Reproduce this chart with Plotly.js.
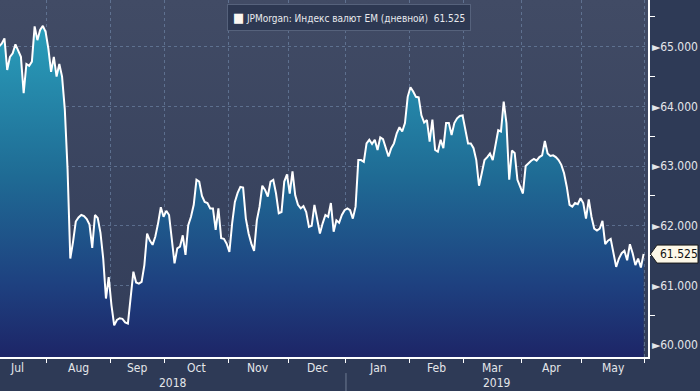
<!DOCTYPE html>
<html>
<head>
<meta charset="utf-8">
<script src="https://cdn.plot.ly/plotly-3.0.1.min.js"></script>
<style>
  html, body { margin: 0; padding: 0; background: #2e3a56; }
  #chart { width: 700px; height: 391px; }
</style>
</head>
<body>
<div id="chart"></div>
<script>
// ---- Data (trading-day index from 2 Jul 2018) ----
const seriesName = 'JPMorgan: Индекс валют EM (дневной)';
const firstDay = 4;
const values = [
  65.00, 65.05, 65.14, 64.61, 64.83, 64.89, 65.04, 64.92, 64.83, 64.22,
  64.71, 64.68, 64.75, 65.34, 65.11, 65.28, 65.35, 65.25, 64.97, 64.58,
  64.83, 64.50, 64.71, 64.50, 63.95, 62.95, 61.45, 61.73, 62.07, 62.14,
  62.18, 62.16, 62.11, 62.02, 61.63, 62.18, 62.13, 61.88, 61.45, 60.78,
  61.14, 60.67, 60.33, 60.42, 60.45, 60.44, 60.38, 60.36, 60.80, 61.23,
  61.05, 61.03, 61.06, 61.34, 61.87, 61.75, 61.68, 61.82, 62.04, 62.31,
  62.15, 62.25, 62.18, 61.75, 61.37, 61.62, 61.65, 61.84, 61.51, 62.01,
  62.15, 62.35, 62.77, 62.74, 62.50, 62.40, 62.38, 62.29, 62.29, 61.93,
  62.29, 61.79, 61.78, 61.70, 61.56, 62.04, 62.40, 62.55, 62.65, 62.64,
  62.12, 61.87, 61.70, 61.58, 62.09, 62.32, 62.67, 62.60, 62.49, 62.74,
  62.77, 62.54, 62.21, 62.23, 62.74, 62.86, 62.54, 62.91, 62.51, 62.35,
  62.29, 62.33, 62.23, 61.98, 62.00, 62.35, 62.12, 61.87, 62.04, 62.18,
  62.15, 62.38, 61.90, 62.09, 62.05, 62.18, 62.26, 62.29, 62.26, 62.12,
  62.32, 63.10, 63.10, 63.07, 63.38, 63.44, 63.37, 63.44, 63.27, 63.48,
  63.45, 63.30, 63.16, 63.30, 63.38, 63.55, 63.65, 63.58, 63.72, 64.16,
  64.32, 64.25, 64.16, 64.15, 63.85, 63.73, 63.77, 63.41, 63.78, 63.27,
  63.24, 63.44, 63.30, 63.72, 63.72, 63.52, 63.72, 63.80, 63.84, 63.85,
  63.60, 63.38, 63.38, 63.30, 63.10, 62.67, 62.88, 63.10, 63.15, 63.21,
  63.10, 63.35, 63.60, 63.58, 64.08, 63.72, 62.77, 63.26, 63.22, 62.77,
  62.65, 62.54, 63.00, 63.05, 63.09, 63.12, 63.09, 63.15, 63.18, 63.42,
  63.21, 63.17, 63.18, 63.15, 63.10, 63.02, 62.88, 62.65, 62.35, 62.32,
  62.38, 62.36, 62.46, 62.38, 62.12, 62.44, 62.15, 61.95, 61.92, 61.95,
  62.08, 61.69, 61.75, 61.78, 61.54, 61.31, 61.45, 61.54, 61.58, 61.42,
  61.69, 61.54, 61.34, 61.45, 61.30, 61.525
];
const monthNames  = ['Jul','Aug','Sep','Oct','Nov','Dec','Jan','Feb','Mar','Apr','May'];
const monthStarts = [0, 22, 45, 65, 88, 110, 131, 154, 174, 195, 217, 240]; // last = Jun
const yearNames   = ['2018', '2019'];
const yearFirstMonth = [0, 6];
const yTicks      = [60, 61, 62, 63, 64, 65];
const yMinorTicks = [60.5, 61.5, 62.5, 63.5, 64.5, 65.5];

// ---- Build ----
const xs = values.map((_, i) => firstDay + i);
const lastVal = values[values.length - 1];
const boundaries = monthStarts.map(s => s - 0.5);
const xRange = [4.375, 240.6];
const FONT = '"DejaVu Sans Condensed", "Liberation Sans Narrow", "DejaVu Sans", sans-serif';
const txtColor = '#e4e6ea';
const gridColor = 'rgba(120,145,180,0.55)';

const bgSvg = '<svg xmlns="http://www.w3.org/2000/svg" width="10" height="100" preserveAspectRatio="none">' +
  '<defs><linearGradient id="g" x1="0" y1="0" x2="0" y2="1">' +
  '<stop offset="0" stop-color="#414b65"/><stop offset="1" stop-color="#323d59"/>' +
  '</linearGradient></defs><rect width="10" height="100" fill="url(#g)"/></svg>';

const traces = [
  {
    type: 'scatter', mode: 'lines', x: xs, y: values,
    line: { color: '#ffffff', width: 2 },
    fill: 'tozeroy',
    fillgradient: {
      type: 'vertical', start: 59.8, stop: 65.4,
      colorscale: [[0, '#1d2567'], [0.22, '#1e4180'], [0.55, '#1f6c95'], [1, '#2aa0bc']]
    },
    showlegend: false, hoverinfo: 'skip'
  }
];

const annotations = [];
for (let i = 0; i < monthNames.length; i++) {
  annotations.push({
    xref: 'x', yref: 'paper', x: (boundaries[i] + boundaries[i + 1]) / 2, y: 0,
    yanchor: 'top', yshift: -2, text: monthNames[i], showarrow: false,
    font: { family: FONT, size: 12, color: txtColor }
  });
}
for (let j = 0; j < yearNames.length; j++) {
  const a = Math.max(boundaries[yearFirstMonth[j]], xRange[0]);
  const b = j + 1 < yearNames.length ? boundaries[yearFirstMonth[j + 1]] : xRange[1];
  annotations.push({
    xref: 'x', yref: 'paper', x: (a + b) / 2, y: 0,
    yanchor: 'top', yshift: -17, text: yearNames[j], showarrow: false,
    font: { family: FONT, size: 12, color: txtColor }
  });
}
// legend box
annotations.push({
  xref: 'paper', yref: 'paper', x: 227 / 648, y: 1, xanchor: 'left', yanchor: 'top', yshift: -4,
  text: '<span style="color:#fbf7f2;font-size:13px">■</span> ' + seriesName + '  ' + lastVal.toFixed(3),
  showarrow: false, align: 'left',
  bgcolor: '#2d3852', bordercolor: '#56627c', borderwidth: 1, borderpad: 5,
  font: { family: FONT, size: 10, color: '#e8eaee' }
});
// last value flag text
annotations.push({
  xref: 'paper', yref: 'y', x: 1, y: lastVal, xanchor: 'left', xshift: 10,
  text: lastVal.toFixed(3), showarrow: false,
  font: { family: FONT, size: 12, color: '#111111' }
});

const shapes = [
  {
    type: 'line', xref: 'x', yref: 'paper',
    x0: boundaries[yearFirstMonth[1]], x1: boundaries[yearFirstMonth[1]],
    y0: -0.045, y1: -0.1, line: { color: '#6f7b93', width: 1 }
  },
  {
    type: 'path', xref: 'paper', yref: 'y', xsizemode: 'pixel', ysizemode: 'pixel',
    xanchor: 1, yanchor: lastVal,
    path: 'M 2.5,0 L 9,9 L 50,9 L 50,-9 L 9,-9 Z',
    fillcolor: '#fdf8e8', line: { color: '#1a1a1a', width: 1 }, layer: 'above'
  }
];

const layout = {
  width: 700, height: 391,
  margin: { l: 0, r: 52, t: 0, b: 34, pad: 0 },
  paper_bgcolor: '#2e3a56',
  plot_bgcolor: '#3a4560',
  showlegend: false,
  images: [{
    source: 'data:image/svg+xml;charset=utf-8,' + encodeURIComponent(bgSvg),
    xref: 'paper', yref: 'paper', x: 0, y: 1, sizex: 1, sizey: 1,
    sizing: 'stretch', xanchor: 'left', yanchor: 'top', layer: 'below'
  }],
  xaxis: {
    range: xRange, tickmode: 'array', tickvals: boundaries, showticklabels: false,
    ticks: 'outside', ticklen: 4, tickcolor: '#ffffff', tickwidth: 1,
    showline: true, linecolor: '#ffffff', linewidth: 1.5,
    showgrid: true, gridcolor: gridColor, griddash: '3px,3px', gridwidth: 1,
    zeroline: false, fixedrange: true
  },
  yaxis: {
    side: 'right', range: [59.8, 65.783],
    tickmode: 'array', tickvals: yTicks, ticktext: yTicks.map(v => '►' + v.toFixed(3)),
    ticks: '', ticklen: 0,
    tickfont: { family: FONT, size: 12, color: txtColor },
    minor: { tickmode: 'array', tickvals: yMinorTicks, ticks: 'outside', ticklen: 5, tickcolor: '#ffffff', showgrid: false },
    showline: true, linecolor: '#ffffff', linewidth: 1.5,
    showgrid: true, gridcolor: gridColor, griddash: '3px,3px', gridwidth: 1,
    zeroline: false, fixedrange: true
  },
  annotations: annotations,
  shapes: shapes
};

Plotly.newPlot('chart', traces, layout, { staticPlot: true, displayModeBar: false });
</script>
</body>
</html>
